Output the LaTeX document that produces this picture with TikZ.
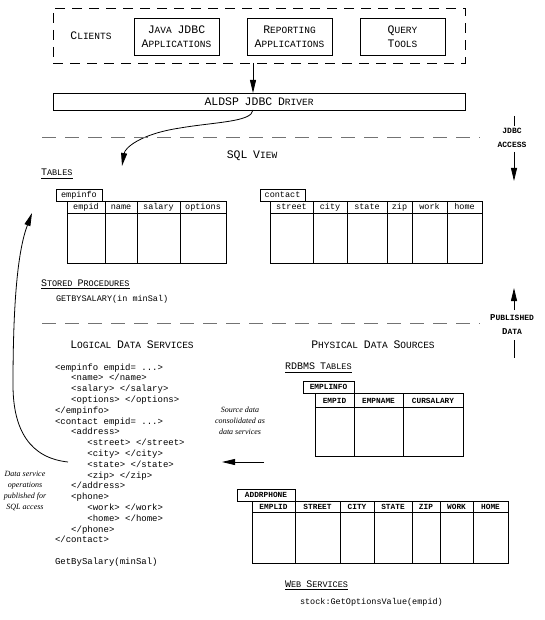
\documentclass[tikz,border=0pt]{standalone}
\usepackage{fontspec}
\setmainfont{Liberation Serif}
\newfontfamily\cour{Liberation Mono}
\newfontfamily\ital{Liberation Serif}
\usetikzlibrary{arrows.meta}
\newcommand\Ha[1]{{\fontsize{11.5}{12}\selectfont#1}}
\newcommand\Hb[1]{{\fontsize{9.5}{10}\selectfont#1}}
\newcommand\Sa[1]{{\fontsize{10}{11}\selectfont#1}}
\newcommand\Sb[1]{{\fontsize{8.5}{9}\selectfont#1}}
\newcommand\ind{\hphantom{xxx}}
\tikzset{
  every node/.style={inner sep=0pt, outer sep=0pt},
  box/.style={draw, line width=0.8pt, minimum width=85pt, minimum height=37pt, align=center, font=\cour\fontsize{9.5}{14}\selectfont},
  head/.style={font=\cour\fontsize{9.5}{12}\selectfont, anchor=base},
  sub/.style={font=\cour\fontsize{8.5}{10}\selectfont, anchor=base west},
  code/.style={font=\cour\fontsize{9}{10}\selectfont, anchor=base west},
  cell/.style={font=\cour\fontsize{8.5}{10}\selectfont, anchor=base},
  ucell/.style={font=\cour\bfseries\fontsize{7.8}{10}\selectfont, anchor=base},
  tabbox/.style={draw, line width=0.8pt, anchor=south west},
  tabline/.style={line width=0.8pt},
  sep/.style={draw=black!55, line width=0.8pt, dash pattern=on 14pt off 9pt},
  arr/.style={line width=0.8pt, -{Triangle[length=13pt,width=6pt]}},
  note/.style={font=\ital\itshape\fontsize{8}{11}\selectfont, align=center},
  side/.style={font=\cour\bfseries\fontsize{8}{14}\selectfont, align=center},
}
\begin{document}
\begin{tikzpicture}[x=1pt,y=-1pt]
\useasboundingbox (0,0) rectangle (545,620);
% ---------- clients ----------
\node[draw, line width=0.8pt, dash pattern=on 10pt off 7pt, minimum width=412pt, minimum height=55pt] (clientsbox) at (259,35.5) {};
\node[head] (clients) at (91,40) {\Ha{C}\Hb{LIENTS}};
\node[box] (java) at (176.5,36.5) {\Ha{J}\Hb{AVA} \Ha{JDBC}\\\Ha{A}\Hb{PPLICATIONS}};
\node[box] (report) at (289.5,36.5) {\Ha{R}\Hb{EPORTING}\\\Ha{A}\Hb{PPLICATIONS}};
\node[box] (query) at (402.5,36.5) {\Ha{Q}\Hb{UERY}\\\Ha{T}\Hb{OOLS}};
% ---------- driver ----------
\node[draw, line width=0.8pt, minimum width=412pt, minimum height=17pt, font=\cour\fontsize{9.5}{12}\selectfont] (driver) at (259,101.5) {\Ha{ALDSP} \Ha{JDBC} \Ha{D}\Hb{RIVER}};
\coordinate (c1) at (253,63);
\coordinate (c2) at (253,93);
\draw[arr] (c1) -- (c2);
\coordinate (d1) at (253,110);
\coordinate (d2) at (122,166);
\draw[arr] (d1) .. controls (252,122) and (215,122) .. (180,128) .. controls (140,134) and (125,148) .. (d2);
% ---------- separators ----------
\coordinate (s1a) at (42,137); \coordinate (s1b) at (480,137);
\draw[sep] (s1a) -- (s1b);
\coordinate (s2a) at (42,323); \coordinate (s2b) at (480,323);
\draw[sep] (s2a) -- (s2b);
% ---------- side labels ----------
\node[side] (jdbc) at (512,138) {JDBC\\ACCESS};
\coordinate (j1) at (514,116); \coordinate (j2) at (514,126);
\draw[line width=0.8pt] (j1) -- (j2);
\coordinate (j3) at (514,152); \coordinate (j4) at (514,181);
\draw[arr] (j3) -- (j4);
\node[side] (pub) at (512,325) {{\fontsize{9}{10}\selectfont P}UBLISHED\\{\fontsize{9}{10}\selectfont D}ATA};
\coordinate (p1) at (514,310); \coordinate (p2) at (514,288);
\draw[arr] (p1) -- (p2);
\coordinate (p3) at (514,340); \coordinate (p4) at (514,358);
\draw[line width=0.8pt] (p3) -- (p4);
% ---------- SQL view ----------
\node[head] (sqlview) at (252,159) {\Ha{SQL} \Ha{V}\Hb{IEW}};
\node[sub] (tables) at (41,176) {\Sa{T}\Sb{ABLES}};
\draw[line width=0.6pt] ([yshift=-2.5pt]tables.south west) -- ([yshift=-2.5pt]tables.south east);
% empinfo table
\node[tabbox, minimum width=46pt, minimum height=12pt, font=\cour\fontsize{8.5}{10}\selectfont] (tabA) at (56,201) {empinfo};
\draw[tabline] (67,201) rectangle (226,263);
\draw[tabline] (67,213) -- (226,213);
\foreach \xx in {105,137,180} \draw[tabline] (\xx,201) -- (\xx,263);
\node[cell] (a1) at (86,210) {empid};
\node[cell] (a2) at (121,210) {name};
\node[cell] (a3) at (158.5,210) {salary};
\node[cell] (a4) at (203,210) {options};
% contact table
\node[tabbox, minimum width=45pt, minimum height=12pt, font=\cour\fontsize{8.5}{10}\selectfont] (tabB) at (260,201) {contact};
\draw[tabline] (270,201) rectangle (482,263);
\draw[tabline] (270,213) -- (482,213);
\foreach \xx in {313,347,387,412,447} \draw[tabline] (\xx,201) -- (\xx,263);
\node[cell] (b1) at (291.5,210) {street};
\node[cell] (b2) at (330,210) {city};
\node[cell] (b3) at (367,210) {state};
\node[cell] (b4) at (399.5,210) {zip};
\node[cell] (b5) at (429.5,210) {work};
\node[cell] (b6) at (464.5,210) {home};
% stored procedures
\node[sub] (stored) at (41,286) {\Sa{S}\Sb{TORED} \Sa{P}\Sb{ROCEDURES}};
\draw[line width=0.6pt] ([yshift=-2.5pt]stored.south west) -- ([yshift=-2.5pt]stored.south east);
\node[sub] (getby) at (56,301) {GETBYSALARY(in minSal)};
% ---------- logical ----------
\node[head] (logical) at (132,348) {\Ha{L}\Hb{OGICAL} \Ha{D}\Hb{ATA} \Ha{S}\Hb{ERVICES}};
\node[head] (physical) at (373,348) {\Ha{P}\Hb{HYSICAL} \Ha{D}\Hb{ATA} \Ha{S}\Hb{OURCES}};
\node[code] (x0) at (55,370) {<empinfo empid= ...>};
\node[code] (x1) at (55,380.8) {\ind<name> </name>};
\node[code] (x2) at (55,391.6) {\ind<salary> </salary>};
\node[code] (x3) at (55,402.4) {\ind<options> </options>};
\node[code] (x4) at (55,413.2) {</empinfo>};
\node[code] (x5) at (55,424) {<contact empid= ...>};
\node[code] (x6) at (55,434.8) {\ind<address>};
\node[code] (x7) at (55,445.6) {\ind\ind<street> </street>};
\node[code] (x8) at (55,456.4) {\ind\ind<city> </city>};
\node[code] (x9) at (55,467.2) {\ind\ind<state> </state>};
\node[code] (x10) at (55,478) {\ind\ind<zip> </zip>};
\node[code] (x11) at (55,488.8) {\ind</address>};
\node[code] (x12) at (55,499.6) {\ind<phone>};
\node[code] (x13) at (55,510.4) {\ind\ind<work> </work>};
\node[code] (x14) at (55,521.2) {\ind\ind<home> </home>};
\node[code] (x15) at (55,532) {\ind</phone>};
\node[code] (x16) at (55,542.8) {</contact>};
\node[code] (x17) at (55,564) {GetBySalary(minSal)};
% ---------- physical ----------
\node[sub] (rdbms) at (285,369) {\Sa{RDBMS} \Sa{T}\Sb{ABLES}};
\draw[line width=0.6pt] ([yshift=-3pt]rdbms.south west) -- ([yshift=-3pt]rdbms.south east);
% EMPLINFO
\node[tabbox, minimum width=51pt, minimum height=12pt, font=\cour\bfseries\fontsize{7.8}{10}\selectfont] (tabC) at (303,393) {EMPLINFO};
\draw[tabline] (315,393) rectangle (463,456);
\draw[tabline] (315,407) -- (463,407);
\foreach \xx in {354,403} \draw[tabline] (\xx,393) -- (\xx,456);
\node[ucell] (c1h) at (334.5,403) {EMPID};
\node[ucell] (c2h) at (378.5,403) {EMPNAME};
\node[ucell] (c3h) at (433,403) {CURSALARY};
% ADDRPHONE
\node[tabbox, minimum width=58pt, minimum height=12pt, font=\cour\bfseries\fontsize{7.8}{10}\selectfont] (tabD) at (237,501) {ADDRPHONE};
\draw[tabline] (252,501) rectangle (508,563);
\draw[tabline] (252,512) -- (508,512);
\foreach \xx in {295,340,374,412,440,473} \draw[tabline] (\xx,501) -- (\xx,563);
\node[ucell] (d1h) at (273.5,509.5) {EMPLID};
\node[ucell] (d2h) at (317.5,509.5) {STREET};
\node[ucell] (d3h) at (357,509.5) {CITY};
\node[ucell] (d4h) at (393,509.5) {STATE};
\node[ucell] (d5h) at (426,509.5) {ZIP};
\node[ucell] (d6h) at (456.5,509.5) {WORK};
\node[ucell] (d7h) at (490.5,509.5) {HOME};
% web services
\node[sub] (web) at (285,587) {\Sa{W}\Sb{EB} \Sa{S}\Sb{ERVICES}};
\draw[line width=0.6pt] ([yshift=-2.5pt]web.south west) -- ([yshift=-2.5pt]web.south east);
\node[sub] (stock) at (300,604) {stock:GetOptionsValue(empid)};
% ---------- notes and arrows ----------
\node[note] (srcnote) at (240,421) {Source data\\consolidated as\\data services};
\coordinate (r1) at (264,462); \coordinate (r2) at (222,462);
\draw[arr] (r1) -- (r2);
\node[note] (dsnote) at (25,490.5) {Data service\\operations\\published for\\SQL access};
\coordinate (l1) at (68,462); \coordinate (l2) at (32,213);
\draw[arr] (l1) .. controls (30,458) and (13,430) .. (13,385) .. controls (13,300) and (18,250) .. (l2);
\end{tikzpicture}
\end{document}
